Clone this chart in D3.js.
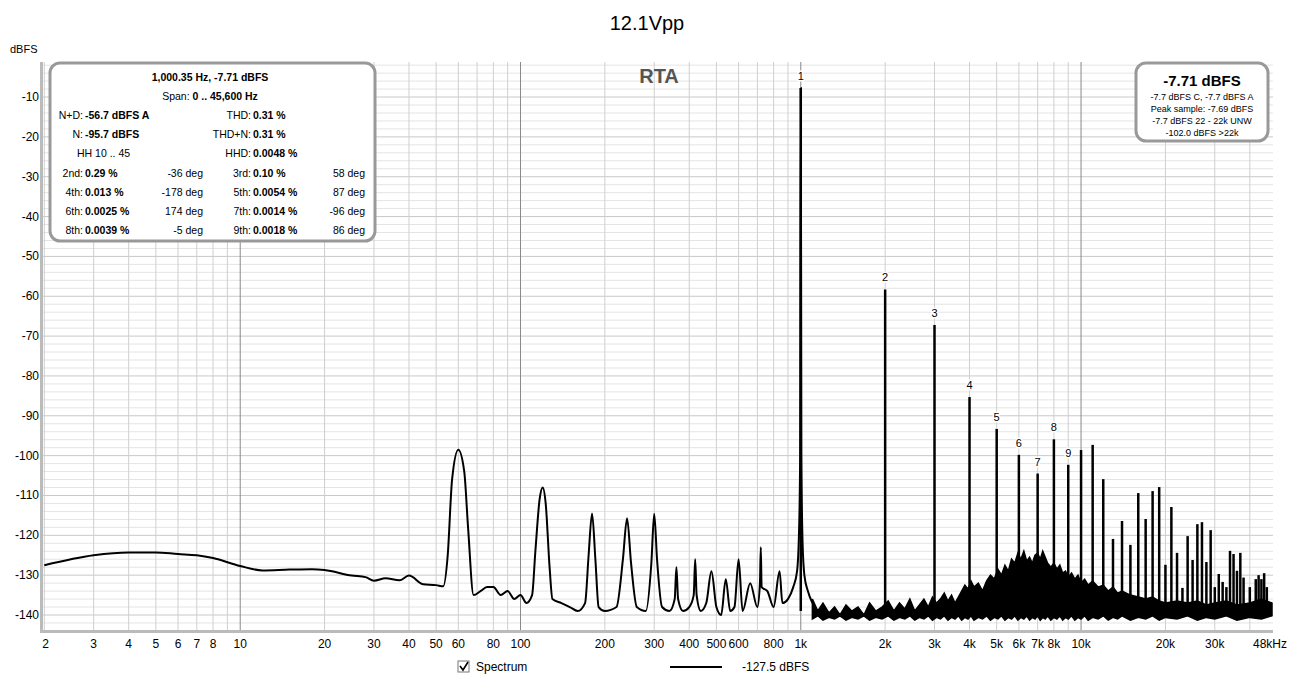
<!DOCTYPE html>
<html><head><meta charset="utf-8">
<script src="https://cdn.jsdelivr.net/npm/d3@7"></script>
<style>body{margin:0;background:#fff;font-family:"Liberation Sans",Arial,sans-serif}</style>
</head><body><svg id="c" width="1295" height="682"></svg>
<script>
// ---- data ----
const xTickVals=[2,3,4,5,6,7,8,10,20,30,40,50,60,80,100,200,300,400,500,600,800,1000,2000,3000,4000,5000,6000,7000,8000,10000,20000,30000,48000];
const xTickLabels=["2","3","4","5","6","7","8","10","20","30","40","50","60","80","100","200","300","400","500","600","800","1k","2k","3k","4k","5k","6k","7k","8k","10k","20k","30k","48kHz"];
const yTickVals=[-10,-20,-30,-40,-50,-60,-70,-80,-90,-100,-110,-120,-130,-140];
// low-frequency trace (Hz, dBFS)
const lowFreq=[2,3,4,5,6,7,8,10,12,15,18,20,25,28,30,33,37,40,45,50,53,55,57,60,63,65,68,72,76,80,85,90,95,100,105,110,113,117,120,123,127,130,140,150,160,170,175,180,185,190,200,220,232,240,248,260,280,293,300,307,320,340,355,360,365,380,400,415,420,425,440,460,480,500,520,540,560,580,600,620,660,700,715,720,725,760,800,840,860,900,940,970,985,995,1000,1005,1015,1030,1060,1100];
const lowDb=[-127.5,-125,-124.3,-124.3,-124.7,-125,-125.7,-127.7,-128.8,-128.6,-128.5,-128.7,-130.1,-130.5,-131.4,-130.8,-131.3,-130.1,-132.3,-132.5,-132.8,-125,-106,-98.5,-104,-118,-135,-134,-133,-133,-135,-134,-136,-135,-137,-135,-124,-111,-108,-112,-128,-136,-137,-138,-139,-137,-125,-114.5,-126,-138,-139,-138,-126,-115.7,-127,-138,-139,-127,-114.6,-126,-138,-139,-136,-128,-136,-139,-138,-135,-126,-135,-139,-137,-129,-138,-140,-131,-139,-138,-126,-139,-132,-138,-132,-123,-133,-134,-138,-129,-137,-136,-133,-129,-120,-100,-7.7,-100,-122,-130,-134,-137];
// noise band above 1.1 kHz: floor and top envelope (jagged)
const noiseFreq=[1100,1150,1200,1260,1320,1380,1450,1520,1600,1680,1760,1850,1950,2050,2150,2250,2350,2450,2550,2650,2750,2850,2950,3050,3150,3250,3350,3450,3550,3650,3750,3850,3950,4050,4150,4300,4450,4600,4750,4900,5050,5200,5350,5500,5650,5800,5950,6100,6250,6400,6550,6700,6850,7000,7150,7300,7450,7600,7800,8000,8200,8400,8600,8800,9000,9250,9500,9750,10000,10300,10600,11000,11500,12000,12500,13000,13500,14000,15000,16000,17000,18000,19000,20000,22000,24000,26000,28000,30000,33000,36000,40000,44000,48000];
const noiseTop=[-136,-139,-137,-139.5,-138,-140,-137.5,-139,-138,-140,-137,-139,-138,-136.5,-139,-137,-138.5,-136,-139,-137.5,-136,-138,-135.5,-137,-136,-134.5,-136.5,-135,-137,-135.5,-134,-132.5,-133.5,-131.5,-133,-132,-134,-131.5,-130,-131,-128.5,-130,-127.5,-129,-126,-127,-124.5,-126,-124,-126.5,-125.5,-127,-125,-124.5,-126,-124,-125.5,-127,-128,-127,-128.5,-127.5,-129.5,-129,-130.5,-129.5,-131,-130,-132,-131,-132.5,-131.5,-133,-132.5,-134,-133,-134.5,-134,-135,-135.5,-136,-135.5,-136.5,-137,-136.5,-137,-136.5,-137.5,-137,-136.5,-137.5,-137,-136,-137];
const noiseBot=noiseFreq.map((f,i)=>[-141,-140.2,-141.3,-140.6][i%4]);
// harmonic / spurious spikes (Hz, peak dBFS)
const spikeFreq=[1000,2000,3000,4000,5000,6000,7000,8000,9000,10000,11000,12000,13000,14000,15000,16000,17000,18000,19000,20000,21000,22000,23000,24000,25000,26000,27000,28000,29000,30000,31000,32000,33000,34000,35000,36000,37000,38000,40000,42000,43000,44000,45000,46000];
const spikeDb=[-7.7,-58.3,-67.2,-85.3,-93.3,-99.8,-104.5,-95.9,-102.3,-98.6,-97.3,-105.9,-120.9,-116.4,-122.4,-109.4,-115.9,-108.9,-107.9,-127.4,-112.9,-124.4,-133.2,-120.2,-126.2,-117.2,-116.7,-126.7,-118.7,-133,-129.7,-131.7,-133,-123.9,-124.7,-128.9,-124.4,-130.6,-133,-131,-130,-131,-129.5,-133];
const harmLabels=["1","2","3","4","5","6","7","8","9"];
const leftBox=[["1,000.35 Hz, -7.71 dBFS"],["Span: ","0 .. 45,600 Hz"]];
const statRows=[["N+D:","-56.7 dBFS A","","THD:","0.31 %",""],["N:","-95.7 dBFS","","THD+N:","0.31 %",""],["HH 10 .. 45","","","HHD:","0.0048 %",""],["2nd:","0.29 %","-36 deg","3rd:","0.10 %","58 deg"],["4th:","0.013 %","-178 deg","5th:","0.0054 %","87 deg"],["6th:","0.0025 %","174 deg","7th:","0.0014 %","-96 deg"],["8th:","0.0039 %","-5 deg","9th:","0.0018 %","86 deg"]];
const rightBox=["-7.7 dBFS C, -7.7 dBFS A","Peak sample: -7.69 dBFS","-7.7 dBFS 22 - 22k UNW","-102.0 dBFS >22k"];

// ---- drawing ----
const svg=d3.select("#c");
const L=43,R=1273,T=62,B=630;
const x=d3.scaleLog().domain([2,48000]).range([44.3,1272]);
const y=d3.scaleLinear().domain([0,-140]).range([57.2,615]);
const ff="Liberation Sans,Arial,sans-serif";
svg.append("rect").attr("x",L-3).attr("y",T).attr("width",R-L+3).attr("height",B-T+3).attr("fill","#bbb");
svg.append("rect").attr("x",L).attr("y",T).attr("width",R-L).attr("height",B-T).attr("fill","#fff");
const g=svg.append("g");
for(let v=-2;v>=-142;v-=2){const yy=y(v);if(yy<T||yy>B)continue;
 g.append("line").attr("x1",L).attr("x2",R).attr("y1",yy).attr("y2",yy).attr("stroke",v%10===0?"#c8c8c8":"#e4e4e4");}
const xs=[];for(let d=1;d<=10000;d*=10)for(let m=1;m<10;m++){const f=d*m;if(f>=2&&f<=48000)xs.push(f);}
xs.forEach(f=>{const dec=Math.abs(Math.log10(f)-Math.round(Math.log10(f)))<1e-9&&f>=10;
 g.append("line").attr("x1",x(f)).attr("x2",x(f)).attr("y1",T).attr("y2",B).attr("stroke",dec?"#888":"#cfcfcf");});
xTickVals.forEach((v,i)=>svg.append("text").attr("x",x(v)).attr("y",648).attr("text-anchor",i===0?"start":"middle").attr("font-size",12).attr("font-family",ff).text(xTickLabels[i]).attr("dx",i===0?-2:(i===xTickVals.length-1?-2:0)));
yTickVals.forEach(v=>svg.append("text").attr("x",39).attr("y",y(v)+4).attr("text-anchor","end").attr("font-size",12).attr("font-family",ff).text(v));
svg.append("text").attr("x",10).attr("y",53).attr("font-size",11).attr("font-family",ff).text("dBFS");
svg.append("text").attr("x",647).attr("y",30).attr("text-anchor","middle").attr("font-size",20).attr("font-family",ff).text("12.1Vpp");
svg.append("text").attr("x",659).attr("y",83).attr("text-anchor","middle").attr("font-size",20).attr("font-weight","bold").attr("fill","#555").attr("font-family",ff).text("RTA");
const na=d3.area().x(i=>x(noiseFreq[i])).y0(i=>y(noiseBot[i])).y1(i=>y(noiseTop[i]));
g.append("path").attr("d",na(d3.range(noiseFreq.length))).attr("fill","#000").attr("stroke","#000").attr("stroke-width",1.5);
const ln=d3.line().x(i=>x(lowFreq[i])).y(i=>y(lowDb[i])).curve(d3.curveMonotoneX);
g.append("path").attr("d",ln(d3.range(lowFreq.length))).attr("fill","none").attr("stroke","#000").attr("stroke-width",2);
spikeFreq.forEach((f,i)=>{g.append("line").attr("x1",x(f)).attr("x2",x(f)).attr("y1",y(-139)).attr("y2",y(spikeDb[i])).attr("stroke","#000").attr("stroke-width",2.5);
 if(i<harmLabels.length)svg.append("text").attr("x",x(f)).attr("y",y(spikeDb[i])-8).attr("text-anchor","middle").attr("font-size",11).attr("font-family",ff).attr("stroke","#fff").attr("stroke-width",3).attr("paint-order","stroke").text(harmLabels[i]);});
svg.append("rect").attr("x",50).attr("y",63).attr("width",325).attr("height",178).attr("rx",10).attr("fill","#fff").attr("stroke","#999").attr("stroke-width",3);
const t=(xx,yy,s,bold,anchor)=>svg.append("text").attr("x",xx).attr("y",yy).attr("font-size",10.5).attr("font-family",ff).attr("font-weight",bold?"bold":"normal").attr("text-anchor",anchor||"start").text(s);
t(210,81,leftBox[0][0],true,"middle");
const sp=svg.append("text").attr("x",210).attr("y",100).attr("font-size",10.5).attr("font-family",ff).attr("text-anchor","middle");
sp.append("tspan").text(leftBox[1][0]);sp.append("tspan").attr("font-weight","bold").text(leftBox[1][1]);
statRows.forEach((r,i)=>{const yy=119+i*19.2;
 if(i===2){t(77,yy,r[0],false,"start");}else{t(83,yy,r[0],false,"end");t(85,yy,r[1],true);}
 t(203,yy,r[2],false,"end");t(251,yy,r[3],false,"end");t(253,yy,r[4],true);t(365,yy,r[5],false,"end");});
svg.append("rect").attr("x",1136).attr("y",63).attr("width",132).attr("height",78).attr("rx",10).attr("fill","#fff").attr("stroke","#999").attr("stroke-width",3);
svg.append("text").attr("x",1202).attr("y",86).attr("text-anchor","middle").attr("font-size",15).attr("font-weight","bold").attr("font-family",ff).text("-7.71 dBFS");
rightBox.forEach((s,i)=>svg.append("text").attr("x",1202).attr("y",100+i*12).attr("text-anchor","middle").attr("font-size",9).attr("font-family",ff).text(s));
svg.append("rect").attr("x",458).attr("y",661).attr("width",11).attr("height",11).attr("fill","#fff").attr("stroke","#777");
svg.append("path").attr("d","M460,666 l3,4 l5,-8").attr("fill","none").attr("stroke","#000").attr("stroke-width",1.6);
svg.append("text").attr("x",476).attr("y",671).attr("font-size",12).attr("font-family",ff).text("Spectrum");
svg.append("line").attr("x1",670).attr("x2",722).attr("y1",667).attr("y2",667).attr("stroke","#000").attr("stroke-width",2);
svg.append("text").attr("x",742).attr("y",671).attr("font-size",12).attr("font-family",ff).text("-127.5 dBFS");
</script></body></html>
